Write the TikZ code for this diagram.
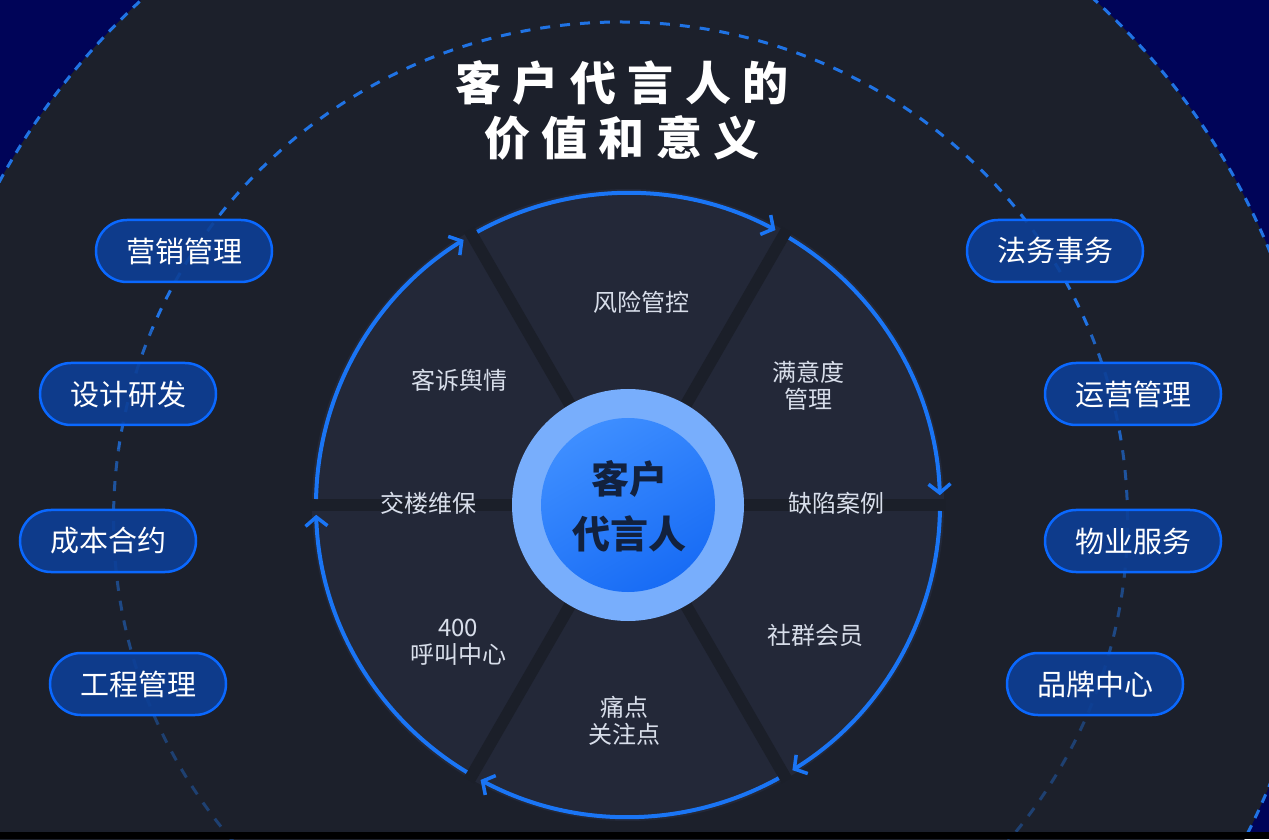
\documentclass[tikz,border=0pt]{standalone}
\usepackage{fontspec}
\newfontfamily\cjk{Noto Sans CJK SC}[BoldFont={Noto Sans CJK SC Bold}]
\newfontfamily\cjkblack{Noto Sans CJK SC Black}
\usetikzlibrary{arrows.meta,calc}
\definecolor{navybg}{RGB}{0,4,88}
\definecolor{bigbg}{RGB}{28,32,43}
\definecolor{sectorbg}{RGB}{35,40,56}
\definecolor{spokec}{RGB}{27,31,41}
\definecolor{arcblue}{RGB}{26,117,245}
\definecolor{dashblue}{RGB}{32,115,228}
\definecolor{ringc}{RGB}{120,174,252}
\definecolor{coreA}{RGB}{62,142,255}
\definecolor{coreB}{RGB}{24,108,245}
\definecolor{coretext}{RGB}{18,33,62}
\definecolor{pillfill}{RGB}{13,63,150}
\definecolor{pillborder}{RGB}{10,104,255}
\definecolor{labelc}{RGB}{216,222,234}
\colorlet{dashB}{dashblue!80!bigbg}
\colorlet{dashC}{dashblue!62!bigbg}
\colorlet{dashD}{dashblue!48!bigbg}
\colorlet{dashE}{dashblue!38!bigbg}
\newcommand\tsp{\hspace{11.5pt}}
\tikzset{
  pill/.style={draw=pillborder, line width=2.5pt, fill=pillfill, fill opacity=0.9, text opacity=1,
    rounded corners=31pt, minimum width=176pt, minimum height=62pt, inner sep=0pt,
    font=\cjk\fontsize{29}{34}\selectfont, text=white},
  seclabel/.style={font=\cjk\fontsize{24}{27}\selectfont, text=labelc, align=center, inner sep=0pt},
  spokeline/.style={draw=spokec, line width=12pt},
  wheelarc/.style={draw=arcblue, line width=4pt, -{Straight Barb[length=9pt,width=22pt,line width=3.5pt]}},
  outerdash/.style={draw=dashblue, line width=3pt, dash pattern=on 9pt off 8pt},
  innerdash/.style={line width=3pt, dash pattern=on 10pt off 10pt}
}
\begin{document}
\begin{tikzpicture}[x=1pt,y=1pt]
\clip (0,0) rectangle (1269,839);
\fill[navybg] (0,0) rectangle (1269,839);
% big dark disc
\coordinate (BC) at (618,321);
\fill[bigbg] (BC) circle (704);
\draw[outerdash] (BC) circle (704);
% inner dashed circle with fading toward the bottom
\coordinate (IC) at (620.5,319);
\foreach \ylo/\yhi/\col in {509/839/dashblue, 389/509/dashB, 269/389/dashC, 139/269/dashD, 0/139/dashE}{
  \begin{scope}
    \clip (0,\ylo) rectangle (1269,\yhi);
    \draw[innerdash, draw=\col] (IC) ellipse [x radius=507, y radius=498];
  \end{scope}
}
% pills
\node[pill] (l1) at (184,588) {营销管理};
\node[pill] (l2) at (128,445) {设计研发};
\node[pill] (l3) at (108,298) {成本合约};
\node[pill] (l4) at (138,155) {工程管理};
\node[pill] (r1) at (1055,588) {法务事务};
\node[pill] (r2) at (1133,445) {运营管理};
\node[pill] (r3) at (1133,298) {物业服务};
\node[pill] (r4) at (1095,155) {品牌中心};
% wheel
\coordinate (C) at (628,334);
\fill[sectorbg] (C) circle (316);
\foreach \a in {0,60,...,300}{
  \draw[spokeline] (C) -- ++(\a:318);
}
\foreach \s in {120,60,0,-60,-120,-180}{
  \draw[wheelarc] ($(C)+(\s-1.1:312)$) arc[start angle=\s-1.1, end angle=\s-58.2, radius=312];
}
% sector labels
\node[seclabel] (s1) at (641,537) {风险管控};
\node[seclabel] (s2) at (808,453) {满意度\\管理};
\node[seclabel] (s3) at (836,336) {缺陷案例};
\node[seclabel] (s4) at (815,204) {社群会员};
\node[seclabel] (s5) at (624,118) {痛点\\关注点};
\node[seclabel] (s6) at (458,197) {400\\呼叫中心};
\node[seclabel] (s7) at (428,336) {交楼维保};
\node[seclabel] (s8) at (459,459) {客诉舆情};
% centre
\fill[ringc] (C) circle (116);
\shade[top color=coreA, bottom color=coreB, shading angle=30] (C) circle (87);
\node[font=\cjkblack\fontsize{38}{55}\selectfont, text=coretext, align=center, inner sep=0pt] (core) at (629,333) {客户\\代言人};
% title
\node[font=\cjkblack\fontsize{46}{55}\selectfont, text=white, align=center, inner sep=0pt] (title) at (622,729)
  {客\tsp 户\tsp 代\tsp 言\tsp 人\tsp 的\\价\tsp 值\tsp 和\tsp 意\tsp 义};
% bottom strip
\fill[black] (0,0) rectangle (1269,7);
\end{tikzpicture}
\end{document}
